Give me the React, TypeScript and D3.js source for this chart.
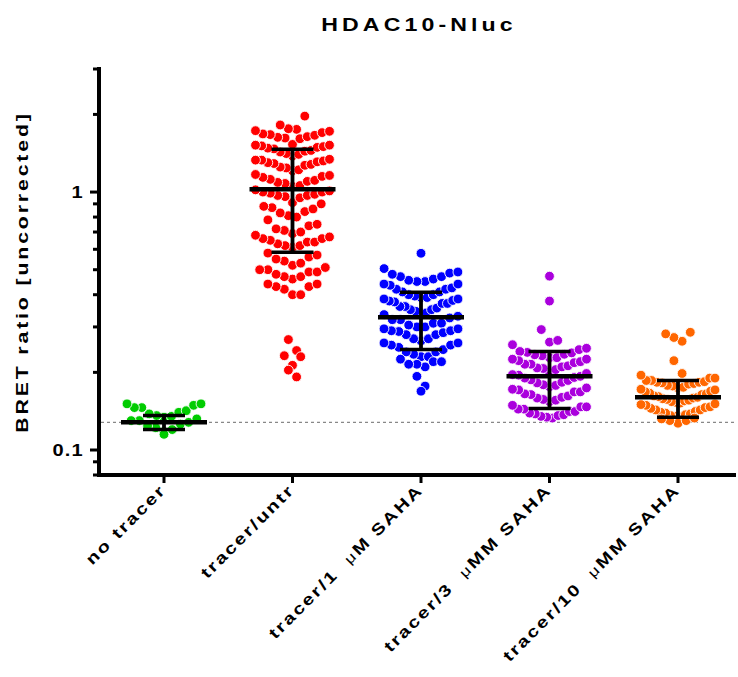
import React from "react";
import * as d3 from "d3";

// Treatment groups along the x axis
const categories = [
  "no tracer",
  "tracer/untr",
  "tracer/1 μM SAHA",
  "tracer/3 μMM SAHA",
  "tracer/10 μMM SAHA",
];

const colors = ["#00CC00", "#FF0000", "#0000FF", "#AA00DD", "#FF6600"];

// BRET ratios per well
const noTracer = [
  0.151, 0.149, 0.151, 0.146, 0.146, 0.142, 0.14, 0.138, 0.136, 0.134, 0.132,
  0.13, 0.128, 0.126, 0.124, 0.13, 0.135, 0.122, 0.118, 0.115, 0.12,
];

const tracerUntr = [
  1.97, 1.82,
  1.76, 1.75, 1.73, 1.72, 1.7, 1.68, 1.66, 1.64, 1.62, 1.61, 1.63, 1.67,
  1.53, 1.52, 1.51, 1.5, 1.49, 1.47, 1.45, 1.43, 1.41, 1.4, 1.38, 1.44, 1.48, 1.52,
  1.34, 1.33, 1.32, 1.31, 1.3, 1.28, 1.27, 1.25, 1.24, 1.22, 1.21, 1.29, 1.33,
  1.17, 1.15, 1.14, 1.12, 1.1, 1.09, 1.08, 1.06, 1.05, 1.11, 1.16,
  1.02, 1.01, 1.0, 0.99, 0.98, 0.97, 0.96, 0.95, 1.0, 0.97,
  0.91, 0.9, 0.88, 0.87, 0.86,
  0.84, 0.83, 0.81, 0.8, 0.78,
  0.75, 0.74, 0.72, 0.71, 0.7, 0.69, 0.68,
  0.67, 0.66, 0.65, 0.64, 0.63, 0.62, 0.61, 0.62, 0.64, 0.66,
  0.58, 0.57, 0.56, 0.55, 0.54, 0.53, 0.52,
  0.51, 0.5, 0.49, 0.48, 0.47, 0.46, 0.47, 0.49, 0.5,
  0.44, 0.43, 0.42, 0.43, 0.44,
  0.4, 0.4,
  0.268, 0.243, 0.23, 0.232, 0.213, 0.204, 0.192,
];

const saha1 = [
  0.579, 0.505,
  0.49, 0.48, 0.47, 0.46, 0.45, 0.44, 0.435, 0.44, 0.45, 0.455, 0.47, 0.485,
  0.425, 0.42, 0.41, 0.4, 0.395, 0.39, 0.385, 0.38, 0.378, 0.385, 0.39, 0.4, 0.41, 0.42,
  0.375, 0.37, 0.36, 0.355, 0.35, 0.345, 0.34, 0.335, 0.33, 0.34, 0.35, 0.36, 0.37,
  0.325, 0.32, 0.31, 0.305, 0.3, 0.295, 0.29, 0.288, 0.295, 0.3, 0.31, 0.32,
  0.29, 0.285, 0.28, 0.27, 0.265, 0.26, 0.255, 0.25, 0.255, 0.26, 0.27, 0.28,
  0.245, 0.24, 0.235, 0.23, 0.225, 0.22, 0.215, 0.21, 0.215, 0.22, 0.23, 0.24,
  0.193, 0.177, 0.169,
];

const saha3 = [
  0.472, 0.378, 0.293,
  0.262, 0.266,
  0.248, 0.241, 0.256, 0.245,
  0.238, 0.234, 0.232, 0.235, 0.239,
  0.228, 0.225, 0.222, 0.218, 0.215, 0.212, 0.208, 0.205, 0.207, 0.21, 0.215, 0.22, 0.225, 0.228,
  0.199, 0.196, 0.193, 0.19, 0.186, 0.182, 0.178, 0.176, 0.179, 0.183, 0.187, 0.191, 0.195, 0.198,
  0.174, 0.171, 0.168, 0.165, 0.162, 0.159, 0.156, 0.154, 0.157, 0.16, 0.164, 0.168, 0.172,
  0.149, 0.147, 0.144, 0.141, 0.139, 0.137, 0.135, 0.133, 0.134, 0.136, 0.138, 0.141, 0.144, 0.147,
];

const saha10 = [
  0.286, 0.273, 0.264, 0.282,
  0.222,
  0.195, 0.19, 0.186, 0.183, 0.186, 0.19, 0.198, 0.182,
  0.184, 0.181, 0.178, 0.175, 0.172, 0.169, 0.166, 0.164, 0.162, 0.165, 0.168, 0.171, 0.174, 0.177, 0.18, 0.183,
  0.161, 0.159, 0.157, 0.155, 0.153, 0.151, 0.15, 0.152, 0.154, 0.156, 0.158, 0.16,
  0.149, 0.147, 0.145, 0.143, 0.141, 0.139, 0.137, 0.135, 0.133, 0.132, 0.134, 0.136, 0.138, 0.14, 0.143, 0.146,
  0.127, 0.13, 0.13,
];

const groups = [noTracer, tracerUntr, saha1, saha3, saha10];

// Mean and SD per group
const means = [0.128, 1.025, 0.327, 0.193, 0.16];
const sds = [0.008, 0.44, 0.082, 0.048, 0.026];

// Axis ticks
const majorTicks = [0.1, 1];
const majorTickLabels = ["0.1", "1"];
const minorTicks = [0.08, 0.09, 0.2, 0.3, 0.4, 0.5, 0.6, 0.7, 0.8, 0.9, 2, 3];

const W = 738;
const H = 677;
const FONT = "Arial, 'Liberation Sans', Helvetica, sans-serif";
const STRETCH = 1.25;

const y = d3.scaleLog().domain([0.08, 3]).range([475, 69]);
const x = d3.scalePoint<string>().domain(categories).range([164, 678]);

const R = 4.9;
const ROW_H = 14;
const MAX_W = 74;
const STEP = 8.2;

type Dot = { cx: number; cy: number; v: number };

// Prism-style scatter layout: points within a row are spread out from the
// centre, lowest values in the middle so each row bends into a shallow V.
function swarm(values: number[], cx0: number): Dot[] {
  const pts = values.map((v) => ({ v, py: y(v) })).sort((a, b) => a.py - b.py);
  const rows: { v: number; py: number }[][] = [];
  let cur: { v: number; py: number }[] = [];
  let start = -Infinity;
  for (const p of pts) {
    if (p.py - start > ROW_H) {
      if (cur.length) rows.push(cur);
      cur = [];
      start = p.py;
    }
    cur.push(p);
  }
  if (cur.length) rows.push(cur);

  const out: Dot[] = [];
  for (const row of rows) {
    const n = row.length;
    const sp = n > 1 ? Math.min(STEP, MAX_W / (n - 1)) : 0;
    const slots = d3.range(n).map((i) => (i - (n - 1) / 2) * sp);
    const ordered = [...row].sort((a, b) => a.v - b.v);
    // alternate sides for each distance from centre
    const left = slots.filter((s) => s < 0).sort((a, b) => b - a);
    const right = slots.filter((s) => s > 0).sort((a, b) => a - b);
    const center = slots.filter((s) => s === 0);
    const seq: number[] = [...center];
    for (let i = 0; i < Math.max(left.length, right.length); i++) {
      if (i % 2 === 0) {
        if (right[i] !== undefined) seq.push(right[i]);
        if (left[i] !== undefined) seq.push(left[i]);
      } else {
        if (left[i] !== undefined) seq.push(left[i]);
        if (right[i] !== undefined) seq.push(right[i]);
      }
    }
    ordered.forEach((p, i) => out.push({ cx: cx0 + seq[i], cy: p.py, v: p.v }));
  }
  return out;
}

function StretchText({
  x: tx,
  y: ty,
  rotate = 0,
  anchor = "middle",
  size,
  spacing = 0,
  children,
}: {
  x: number;
  y: number;
  rotate?: number;
  anchor?: string;
  size: number;
  spacing?: number;
  children: React.ReactNode;
}) {
  return (
    <text
      transform={`translate(${tx},${ty}) rotate(${rotate}) scale(${STRETCH},1)`}
      textAnchor={anchor}
      fontFamily={FONT}
      fontWeight="bold"
      fontSize={size}
      letterSpacing={spacing}
      fill="#000"
    >
      {children}
    </text>
  );
}

function CategoryLabel({ label, px }: { label: string; px: number }) {
  const parts = label.split("μ");
  return (
    <StretchText x={px + 3} y={491} rotate={-45} anchor="end" size={16} spacing={1.8}>
      {parts.length === 1 ? (
        label
      ) : (
        <>
          <tspan>{parts[0]}</tspan>
          <tspan dx={6} fontWeight="normal" fontSize={14}>
            μ
          </tspan>
          <tspan>{parts[1]}</tspan>
        </>
      )}
    </StretchText>
  );
}

export default function App() {
  const axisX = 99;
  const axisY = 475;
  const right = 736;
  const baseline = means[0];

  return (
    <svg
      width={W}
      height={H}
      style={{ position: "absolute", left: 0, top: 0, background: "#fff" }}
    >
      <rect width={W} height={H} fill="#fff" />

      {/* title */}
      <StretchText x={419} y={31} size={18.5} spacing={3.3}>
        HDAC10-Nluc
      </StretchText>

      {/* y axis title */}
      <StretchText x={28} y={272} rotate={-90} size={17} spacing={2.3}>
        BRET ratio [uncorrected]
      </StretchText>

      {/* reference line at the no-tracer mean */}
      <line
        x1={axisX + 2}
        x2={right}
        y1={y(baseline)}
        y2={y(baseline)}
        stroke="#888"
        strokeWidth={1.2}
        strokeDasharray="3,3"
      />

      {/* points */}
      {groups.map((vals, gi) =>
        swarm(vals, x(categories[gi])!).map((d, i) => (
          <circle
            key={`${gi}-${i}`}
            cx={d.cx}
            cy={d.cy}
            r={R}
            fill={colors[gi]}
            stroke="#fff"
            strokeWidth={0.9}
          />
        ))
      )}

      {/* mean ± SD */}
      {categories.map((c, gi) => {
        const cx = x(c)!;
        const m = means[gi];
        const hi = y(m + sds[gi]);
        const lo = y(m - sds[gi]);
        return (
          <g key={c} stroke="#000">
            <line x1={cx} x2={cx} y1={hi} y2={lo} strokeWidth={3.8} />
            <line x1={cx - 21} x2={cx + 21} y1={hi} y2={hi} strokeWidth={3.5} />
            <line x1={cx - 21} x2={cx + 21} y1={lo} y2={lo} strokeWidth={3.5} />
            <line x1={cx - 43} x2={cx + 43} y1={y(m)} y2={y(m)} strokeWidth={4.5} />
          </g>
        );
      })}

      {/* y axis */}
      <line x1={axisX} x2={axisX} y1={67} y2={axisY + 2} stroke="#000" strokeWidth={4} />
      {minorTicks.map((t) => (
        <line key={t} x1={axisX - 6} x2={axisX} y1={y(t)} y2={y(t)} stroke="#000" strokeWidth={3} />
      ))}
      {majorTicks.map((t, i) => (
        <g key={t}>
          <line x1={axisX - 9} x2={axisX} y1={y(t)} y2={y(t)} stroke="#000" strokeWidth={3} />
          <StretchText x={axisX - 15} y={y(t) + 6} anchor="end" size={16} spacing={1}>
            {majorTickLabels[i]}
          </StretchText>
        </g>
      ))}

      {/* x axis */}
      <line x1={axisX - 2} x2={right} y1={axisY} y2={axisY} stroke="#000" strokeWidth={4} />
      {categories.map((c) => (
        <line key={c} x1={x(c)!} x2={x(c)!} y1={axisY} y2={axisY + 8} stroke="#000" strokeWidth={3} />
      ))}
      {categories.map((c) => (
        <CategoryLabel key={c} label={c} px={x(c)!} />
      ))}
    </svg>
  );
}
